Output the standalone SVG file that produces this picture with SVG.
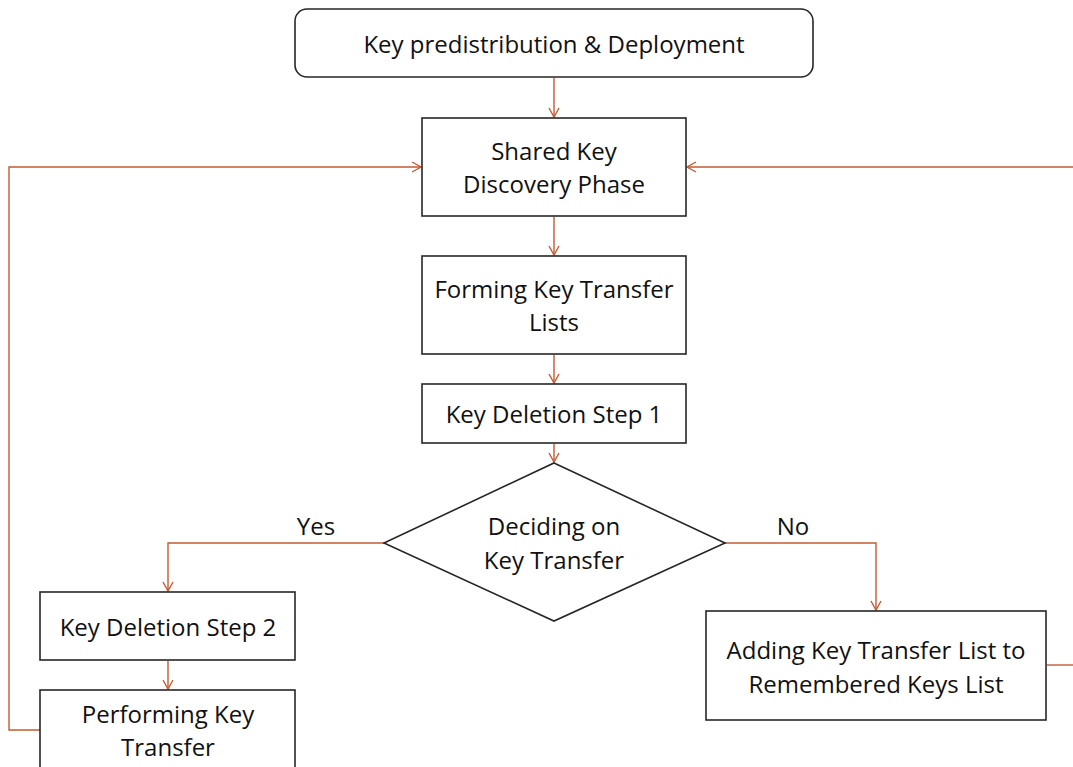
<svg xmlns="http://www.w3.org/2000/svg" width="1073" height="767" viewBox="0 0 1073 767">
<defs>
<style>
.box{fill:#fff;stroke:#262626;stroke-width:1.6}
.t{font-family:"Open Sans","Noto Sans",sans-serif;font-size:24px;fill:#111;text-anchor:middle}
.c{fill:none;stroke:#c55a32;stroke-width:1.4}
</style>
<marker id="a" markerWidth="12" markerHeight="12" refX="10" refY="6" orient="auto" markerUnits="userSpaceOnUse">
<path d="M1,1 L10,6 L1,11" fill="none" stroke="#c55a32" stroke-width="1.4"/>
</marker>
</defs>
<rect width="1073" height="767" fill="#fff"/>
<g id="connectors">
<path class="c" d="M554,78 V117" marker-end="url(#a)"/>
<path class="c" d="M554,217 V255" marker-end="url(#a)"/>
<path class="c" d="M554,355 V383" marker-end="url(#a)"/>
<path class="c" d="M554,444 V462" marker-end="url(#a)"/>
<path class="c" d="M384,543 H168 V591" marker-end="url(#a)"/>
<path class="c" d="M168,661 V689" marker-end="url(#a)"/>
<path class="c" d="M725,543 H876 V610" marker-end="url(#a)"/>
<path class="c" d="M40,730 H9 V167 H421" marker-end="url(#a)"/>
<path class="c" d="M1047,665 H1073"/>
<path class="c" d="M1073,167 H687" marker-end="url(#a)"/>
<text class="t" x="316" y="535">Yes</text>
<text class="t" x="793" y="535">No</text>
</g>
<g id="n1"><rect class="box" x="295" y="9" width="518" height="68" rx="12"/><text class="t" x="554" y="53">Key predistribution &amp; Deployment</text></g>
<g id="n2"><rect class="box" x="422" y="118" width="264" height="98"/><text class="t" x="554" y="160">Shared Key</text><text class="t" x="554" y="193">Discovery Phase</text></g>
<g id="n3"><rect class="box" x="422" y="256" width="264" height="98"/><text class="t" x="554" y="298">Forming Key Transfer</text><text class="t" x="554" y="331">Lists</text></g>
<g id="n4"><rect class="box" x="422" y="384" width="264" height="59"/><text class="t" x="554" y="423">Key Deletion Step 1</text></g>
<g id="n5"><polygon class="box" points="554,463 725,543 554,621 384,543"/><text class="t" x="554" y="535">Deciding on</text><text class="t" x="554" y="569">Key Transfer</text></g>
<g id="n6"><rect class="box" x="40" y="592" width="255" height="68"/><text class="t" x="168" y="636">Key Deletion Step 2</text></g>
<g id="n7"><rect class="box" x="40" y="690" width="255" height="90"/><text class="t" x="168" y="723">Performing Key</text><text class="t" x="168" y="756">Transfer</text></g>
<g id="n8"><rect class="box" x="706" y="611" width="340" height="109"/><text class="t" x="876" y="659">Adding Key Transfer List to</text><text class="t" x="876" y="693">Remembered Keys List</text></g>
</svg>
